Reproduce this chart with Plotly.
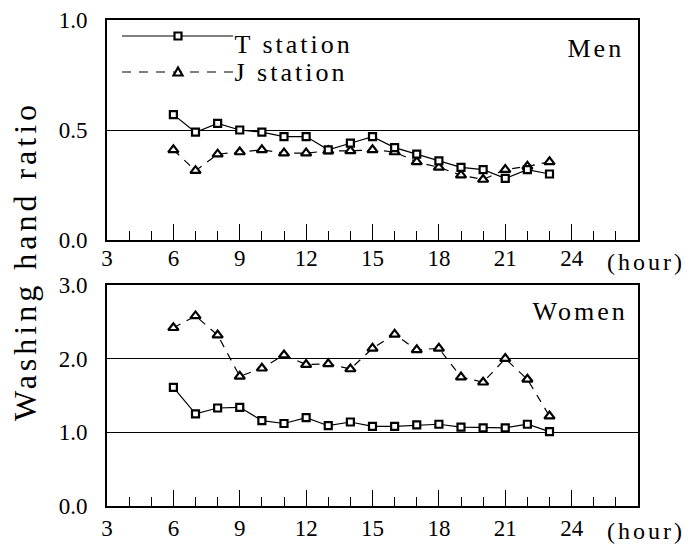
import plotly.graph_objects as go

# Hourly washing-hand ratio at two stations
hours = list(range(6, 24))
men_T = [0.57, 0.49, 0.53, 0.50, 0.49, 0.47, 0.47, 0.41, 0.44, 0.47, 0.42, 0.39, 0.36, 0.33, 0.32, 0.28, 0.32, 0.30]
men_J = [0.41, 0.315, 0.39, 0.40, 0.41, 0.395, 0.395, 0.405, 0.405, 0.41, 0.40, 0.355, 0.33, 0.295, 0.275, 0.32, 0.335, 0.355]
women_T = [1.61, 1.25, 1.33, 1.34, 1.16, 1.12, 1.20, 1.09, 1.14, 1.08, 1.08, 1.10, 1.11, 1.07, 1.06, 1.06, 1.11, 1.01]
women_J = [2.42, 2.58, 2.32, 1.76, 1.87, 2.05, 1.92, 1.93, 1.86, 2.14, 2.33, 2.12, 2.14, 1.75, 1.68, 2.00, 1.72, 1.22]

x_ticks = [3, 6, 9, 12, 15, 18, 21, 24]
men_y_ticks = [0.0, 0.5, 1.0]
women_y_ticks = [0.0, 1.0, 2.0, 3.0]

W, H = 693, 546
FONT = "Liberation Serif, serif"
BLACK = "#000"

t_style = dict(mode="lines+markers", line=dict(color=BLACK, width=1.2),
               marker=dict(symbol="square", size=7, color="white",
                           line=dict(color=BLACK, width=2.2)))
j_style = dict(mode="lines+markers", line=dict(color=BLACK, width=1.2, dash="8px,7px"),
               marker=dict(symbol="triangle-up", size=9, color="white",
                           line=dict(color=BLACK, width=2.2)))

fig = go.Figure()
fig.add_trace(go.Scatter(x=hours, y=men_J, name="J station", xaxis="x", yaxis="y", **j_style))
fig.add_trace(go.Scatter(x=hours, y=men_T, name="T station", xaxis="x", yaxis="y", **t_style))
fig.add_trace(go.Scatter(x=hours, y=women_J, name="J station", xaxis="x2", yaxis="y2", **j_style))
fig.add_trace(go.Scatter(x=hours, y=women_T, name="T station", xaxis="x2", yaxis="y2", **t_style))

xdom = [107 / W, 638 / W]
xcommon = dict(domain=xdom, range=[3, 27], tickmode="array", tickvals=x_ticks,
               ticktext=[str(v) for v in x_ticks], ticks="inside", ticklen=16,
               tickwidth=1.3, tickcolor=BLACK, showline=True, linewidth=2,
               linecolor=BLACK, mirror=True, showgrid=False, zeroline=False,
               automargin=False,
               minor=dict(dtick=1, tick0=3, ticks="inside", ticklen=9,
                          tickwidth=1.3, tickcolor=BLACK, showgrid=False),
               tickfont=dict(family=FONT, size=23, color=BLACK))
ycommon = dict(ticks="", showline=True, linewidth=2, linecolor=BLACK, mirror=True,
               showgrid=True, gridcolor=BLACK, gridwidth=1.2, zeroline=False,
               ticklabelstandoff=13, automargin=False,
               tickfont=dict(family=FONT, size=23, color=BLACK))

fig.update_layout(
    width=W, height=H, margin=dict(l=0, r=0, t=0, b=0, pad=0, autoexpand=False),
    paper_bgcolor="white", plot_bgcolor="white", showlegend=False,
    font=dict(family=FONT, color=BLACK),
    xaxis=dict(anchor="y", ticklabelstandoff=-4, **xcommon),
    yaxis=dict(anchor="x", domain=[1 - 240 / H, 1 - 20 / H], range=[0, 1],
               tickvals=men_y_ticks, ticktext=[f"{v:.1f}" for v in men_y_ticks], **ycommon),
    xaxis2=dict(anchor="y2", ticklabelstandoff=0, **xcommon),
    yaxis2=dict(anchor="x2", domain=[1 - 506 / H, 1 - 285 / H], range=[0, 3],
                tickvals=women_y_ticks, ticktext=[f"{v:.1f}" for v in women_y_ticks], **ycommon),
)

# Legend key drawn inside the men's panel: long sample lines with the marker in the middle
def px_x(p):
    return (p - 107) / (638 - 107)

def px_y(p):
    return (240 - p) / 220

shapes = [
    dict(type="line", xref="x domain", yref="y domain", x0=px_x(122), x1=px_x(233),
         y0=px_y(36), y1=px_y(36), line=dict(color=BLACK, width=1.2)),
    dict(type="line", xref="x domain", yref="y domain", x0=px_x(122), x1=px_x(233),
         y0=px_y(72), y1=px_y(72), line=dict(color=BLACK, width=1.2, dash="9px,8px")),
    dict(type="rect", xref="x domain", yref="y domain", xsizemode="pixel", ysizemode="pixel",
         xanchor=px_x(178), yanchor=px_y(36), x0=-3.5, x1=3.5, y0=-3.5, y1=3.5,
         fillcolor="white", line=dict(color=BLACK, width=2.2)),
    dict(type="path", xref="x domain", yref="y domain", xsizemode="pixel", ysizemode="pixel",
         xanchor=px_x(178), yanchor=px_y(72), path="M -4.5 -3.5 L 4.5 -3.5 L 0 4.5 Z",
         fillcolor="white", line=dict(color=BLACK, width=2.2)),
]
fig.update_layout(shapes=shapes)

ann_font = dict(family=FONT, size=26, color=BLACK)
annotations = [
    dict(text="T station", x=(233 + 13) / W, y=1 - 44 / H, xanchor="left", yanchor="middle"),
    dict(text="J station", x=(233 + 13) / W, y=1 - 73 / H, xanchor="left", yanchor="middle"),
    dict(text="Men", x=622 / W, y=1 - 48 / H, xanchor="right", yanchor="middle"),
    dict(text="Women", x=622 / W, y=1 - 311 / H, xanchor="right", yanchor="middle"),
    dict(text="(hour)", x=646 / W, y=1 - 262 / H, xanchor="center", yanchor="middle",
         font=dict(family=FONT, size=24, color=BLACK)),
    dict(text="(hour)", x=646 / W, y=1 - 531 / H, xanchor="center", yanchor="middle",
         font=dict(family=FONT, size=24, color=BLACK)),
    dict(text="Washing hand ratio", x=25 / W, y=1 - 261 / H, xanchor="center", yanchor="middle",
         textangle=-90, font=dict(family=FONT, size=32, color=BLACK)),
]
for a in annotations:
    a.setdefault("font", ann_font)
    a.update(xref="paper", yref="paper", showarrow=False)
fig.update_layout(annotations=annotations)

# Widen the letter spacing of the free text labels
spacing_js = """
var gd = document.getElementById('{plot_id}');
gd.querySelectorAll('.annotation-text').forEach(function (t) {
    var wide = (t.textContent.indexOf('Washing') === 0);
    t.style.letterSpacing = wide ? '4px' : '3px';
});
"""
fig.write_html("out.html", post_script=spacing_js)
